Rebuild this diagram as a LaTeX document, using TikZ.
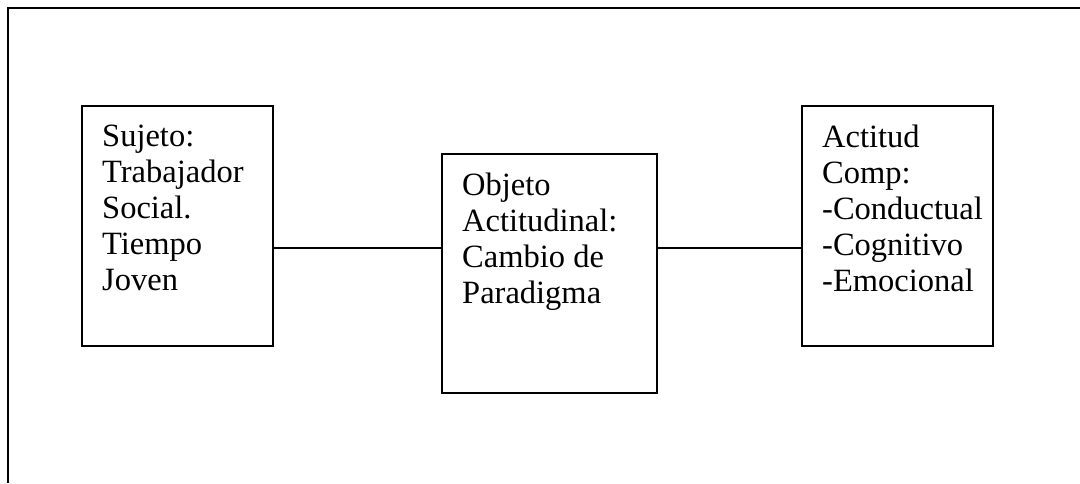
\documentclass[tikz,border=0pt]{standalone}
\usepackage{fontspec}
\setmainfont{Liberation Serif}
\usetikzlibrary{calc}
\tikzset{
  frameline/.style={line width=2pt},
  boxnode/.style={draw, line width=2pt, inner sep=0pt, anchor=north west},
  boxtext/.style={inner sep=0pt, anchor=north west, align=left,
    font=\fontsize{32.5}{36}\selectfont},
  link/.style={line width=2pt}
}
\begin{document}
\begin{tikzpicture}[x=1pt,y=-1pt]
\useasboundingbox (0,0) rectangle (1080,483);
\coordinate (fa) at (8,483);
\coordinate (fb) at (8,8);
\coordinate (fc) at (1080,8);
\draw[frameline] (fa) -- (fb) -- (fc);

\node[boxnode, minimum width=191pt, minimum height=240pt] (s) at (81,105) {};
\node[boxnode, minimum width=215pt, minimum height=239pt] (o) at (441,153) {};
\node[boxnode, minimum width=191pt, minimum height=240pt] (a) at (801,105) {};

\node[boxtext] (st) at ($(s.north west)+(21,20)$) {Sujeto:\\Trabajador\\Social.\\Tiempo\\Joven};
\node[boxtext] (ot) at ($(o.north west)+(21,20)$) {Objeto\\Actitudinal:\\Cambio de\\Paradigma};
\node[boxtext] (at) at ($(a.north west)+(21,20)$) {Actitud\\Comp:\\-Conductual\\-Cognitivo\\-Emocional};

\coordinate (ly) at (0,248);
\draw[link] (s.east |- ly) -- (o.west |- ly);
\draw[link] (o.east |- ly) -- (a.west |- ly);
\end{tikzpicture}
\end{document}
